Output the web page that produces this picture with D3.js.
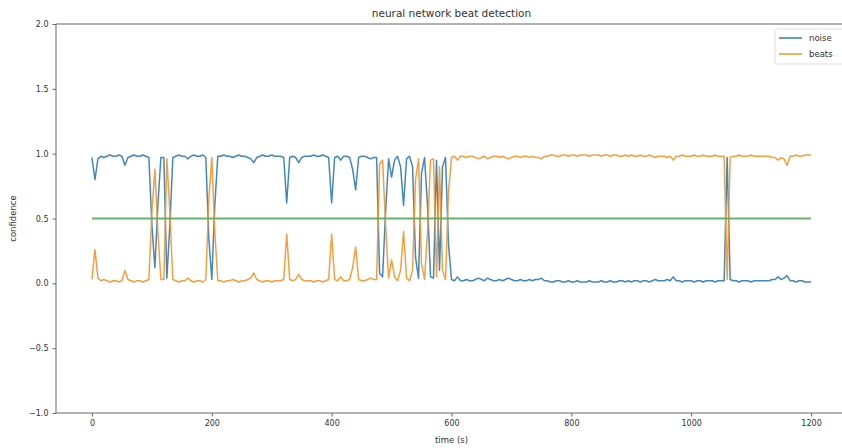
<!DOCTYPE html>
<html>
<head>
<meta charset="utf-8">
<script src="https://cdnjs.cloudflare.com/ajax/libs/d3/7.8.5/d3.min.js"></script>
<style>
  body { margin: 0; background: #fff; }
  text { font-family: "DejaVu Sans", sans-serif; fill: #333; }
</style>
</head>
<body>
<div id="chart"></div>
<script>
// sampled every 5 s, 0 .. 1200
var times = d3.range(0, 1201, 5);

var noise = [
  .97,.80,.96,.98,.97,.98,.99,.98,.98,.99,
  .98,.91,.97,.98,.99,.98,.98,.99,.98,.97,
  .45,.12,.60,.97,.97,.04,.45,.97,.98,.99,
  .98,.98,.96,.98,.99,.98,.98,.99,.97,.35,
  .03,.60,.98,.98,.99,.98,.98,.97,.98,.99,
  .98,.98,.97,.96,.93,.97,.98,.99,.98,.98,
  .99,.98,.98,.98,.97,.62,.97,.98,.97,.93,
  .97,.98,.98,.98,.99,.98,.98,.99,.98,.97,
  .62,.97,.98,.95,.98,.98,.97,.88,.72,.97,
  .98,.98,.97,.96,.97,.97,.08,.05,.55,.96,
  .82,.95,.98,.90,.60,.96,.98,.90,.20,.04,
  .85,.97,.60,.05,.04,.95,.10,.90,.97,.30,
  .03,.02,.05,.02,.02,.03,.02,.02,.03,.04,
  .03,.02,.04,.03,.02,.02,.03,.02,.03,.04,
  .03,.02,.02,.03,.02,.02,.03,.02,.03,.03,
  .04,.02,.02,.01,.01,.02,.02,.01,.01,.02,
  .01,.01,.02,.01,.01,.01,.02,.01,.01,.01,
  .02,.01,.01,.02,.01,.01,.02,.02,.01,.02,
  .01,.02,.02,.01,.02,.02,.01,.02,.03,.02,
  .02,.02,.03,.02,.05,.02,.02,.01,.02,.02,
  .02,.01,.02,.02,.01,.02,.02,.02,.01,.02,
  .02,.02,.97,.03,.02,.02,.01,.02,.02,.02,
  .01,.02,.02,.02,.02,.02,.02,.03,.03,.05,
  .03,.04,.06,.02,.02,.01,.02,.02,.01,.01,
  .01
];

var beats = [
  .03,.26,.04,.02,.03,.02,.01,.02,.02,.01,
  .02,.10,.03,.02,.01,.02,.02,.01,.02,.03,
  .55,.88,.40,.03,.03,.96,.55,.03,.02,.01,
  .02,.02,.04,.02,.01,.02,.02,.01,.03,.65,
  .97,.40,.02,.02,.01,.02,.02,.03,.02,.01,
  .02,.02,.03,.04,.08,.03,.02,.01,.02,.02,
  .01,.02,.02,.02,.03,.38,.03,.02,.03,.07,
  .03,.02,.02,.02,.01,.02,.02,.01,.02,.03,
  .38,.03,.02,.05,.02,.02,.03,.12,.28,.03,
  .02,.02,.03,.04,.03,.03,.92,.95,.45,.04,
  .18,.05,.02,.10,.40,.04,.02,.10,.80,.96,
  .15,.03,.40,.95,.96,.05,.90,.10,.03,.70,
  .97,.98,.95,.98,.98,.97,.98,.98,.97,.96,
  .97,.98,.96,.97,.98,.98,.97,.98,.97,.96,
  .97,.98,.98,.97,.98,.98,.97,.98,.97,.97,
  .96,.98,.98,.99,.99,.98,.98,.99,.99,.98,
  .99,.99,.98,.99,.99,.99,.98,.99,.99,.99,
  .98,.99,.99,.98,.99,.99,.98,.98,.99,.98,
  .99,.98,.98,.99,.98,.98,.99,.98,.97,.98,
  .98,.98,.97,.98,.95,.98,.98,.99,.98,.98,
  .98,.99,.98,.98,.99,.98,.98,.98,.99,.98,
  .98,.98,.03,.97,.98,.98,.99,.98,.98,.98,
  .99,.98,.98,.98,.98,.98,.98,.97,.97,.95,
  .97,.96,.91,.98,.98,.99,.98,.98,.99,.99,
  .99
];

// threshold line
var thresholdTimes = [0, 1200];
var threshold = [0.5, 0.5];

var xTicks = [0, 200, 400, 600, 800, 1000, 1200];
var yTicks = [-1.0, -0.5, 0.0, 0.5, 1.0, 1.5, 2.0];

var width = 842, height = 448;
var margin = { top: 24, right: -5, bottom: 35, left: 56 };

var x = d3.scaleLinear().domain([-60, 1260]).range([margin.left, width - margin.right]);
var y = d3.scaleLinear().domain([-1, 2]).range([height - margin.bottom, margin.top]);

var svg = d3.select("#chart").append("svg")
  .attr("width", width)
  .attr("height", height);

var line = d3.line()
  .x(function(d) { return x(d[0]); })
  .y(function(d) { return y(d[1]); });

var series = [
  { name: "noise", values: noise, t: times, color: "#2f7bb6" },
  { name: "beats", values: beats, t: times, color: "#f5952a" },
  { name: "", values: threshold, t: thresholdTimes, color: "#5aa85a" }
];

svg.selectAll(".series")
  .data(series)
  .enter().append("path")
  .attr("class", "series")
  .attr("fill", "none")
  .attr("stroke", function(d) { return d.color; })
  .attr("stroke-width", function(d) { return d.name ? 1.5 : 2; })
  .attr("stroke-opacity", 0.9)
  .attr("stroke-linejoin", "round")
  .attr("d", function(d) {
    return line(d.values.map(function(v, i) { return [d.t[i], v]; }));
  });

// frame
svg.append("path")
  .attr("fill", "none")
  .attr("stroke", "#666")
  .attr("stroke-width", 1)
  .attr("d", "M" + (width + 10) + "," + y(2) + "H" + x(-60) + "V" + y(-1) + "H" + (width + 10));

var xAxis = svg.append("g")
  .attr("transform", "translate(0," + y(-1) + ")")
  .call(d3.axisBottom(x).tickValues(xTicks).tickSize(3.5).tickPadding(4).tickFormat(d3.format("d")));
var yAxis = svg.append("g")
  .attr("transform", "translate(" + x(-60) + ",0)")
  .call(d3.axisLeft(y).tickValues(yTicks).tickSize(3.5).tickPadding(4).tickFormat(d3.format(".1f")));

[xAxis, yAxis].forEach(function(ax) {
  ax.select(".domain").remove();
  ax.selectAll(".tick line").attr("stroke", "#666");
  ax.selectAll(".tick text")
    .style("font-family", "DejaVu Sans, sans-serif")
    .style("font-size", "8px")
    .attr("fill", "#444");
});
yAxis.selectAll(".tick text").text(function(d) { return d.toFixed(1).replace("-", "\u2212"); });

svg.append("text")
  .attr("x", x(600)).attr("y", 17)
  .attr("text-anchor", "middle")
  .style("font-size", "10.5px")
  .text("neural network beat detection");

svg.append("text")
  .attr("x", x(600)).attr("y", 443)
  .attr("text-anchor", "middle")
  .style("font-size", "8.5px")
  .text("time (s)");

svg.append("text")
  .attr("transform", "translate(16," + y(0.5) + ") rotate(-90)")
  .attr("text-anchor", "middle")
  .style("font-size", "8.5px")
  .text("confidence");

// legend
var legend = svg.append("g").attr("transform", "translate(775,29)");
legend.append("rect")
  .attr("width", 80).attr("height", 35).attr("rx", 2)
  .attr("fill", "#fff").attr("fill-opacity", 0.8)
  .attr("stroke", "#ddd");
var items = legend.selectAll(".item")
  .data(series.filter(function(d) { return d.name; }))
  .enter().append("g")
  .attr("transform", function(d, i) { return "translate(0," + (9 + i * 16) + ")"; });
items.append("line")
  .attr("x1", 4).attr("x2", 27)
  .attr("stroke", function(d) { return d.color; })
  .attr("stroke-width", 1.5);
items.append("text")
  .attr("x", 34).attr("y", 3)
  .style("font-size", "8.5px")
  .text(function(d) { return d.name; });
</script>
</body>
</html>
